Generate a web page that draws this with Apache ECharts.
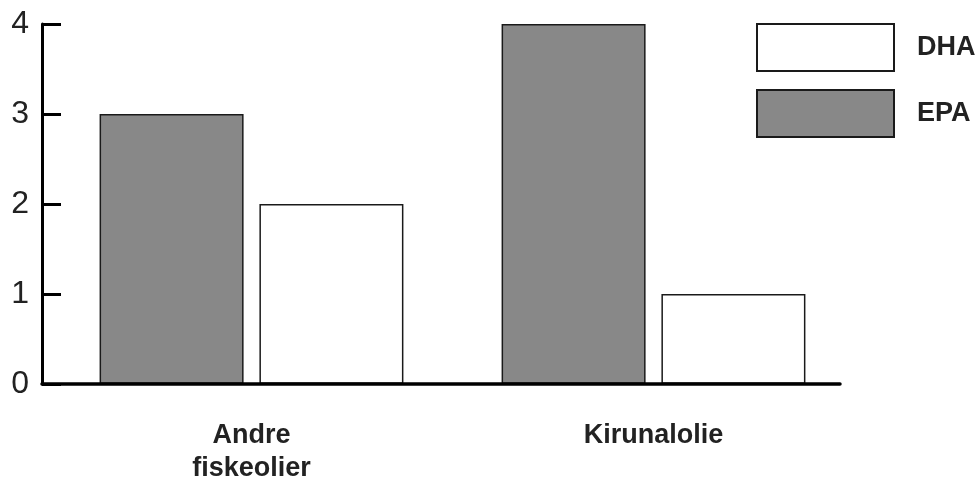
<!DOCTYPE html>
<html>
<head>
<meta charset="utf-8">
<script src="https://cdn.jsdelivr.net/npm/echarts@6/dist/echarts.min.js"></script>
<style>html,body{margin:0;padding:0;background:#fff;}#c{width:978px;height:480px;}</style>
</head>
<body>
<div id="c"></div>
<script>
const categories = ['Andre\nfiskeolier', 'Kirunalolie'];
const epaValues = [3, 4];
const dhaValues = [2, 1];
const yTicks = [0, 1, 2, 3, 4];

const chart = echarts.init(document.getElementById('c'), null, {renderer: 'canvas'});
const font = '"Liberation Sans", Arial, sans-serif';
chart.setOption({
  animation: false,
  backgroundColor: '#fff',
  textStyle: {fontFamily: font},
  grid: [
    {left: 42, right: 138, top: 24, bottom: 96, outerBoundsMode: 'none', containLabel: false},
    {left: 50.5, right: 123.5, top: 24, bottom: 96, outerBoundsMode: 'none', containLabel: false}
  ],
  legend: {
    orient: 'vertical',
    left: 751, top: 18,
    itemWidth: 137, itemHeight: 47, itemGap: 17,
    data: ['DHA', 'EPA'],
    icon: 'rect',
    textStyle: {fontFamily: font, fontSize: 27, fontWeight: 'bold', color: '#222', padding: [0, 0, 0, 18]}
  },
  xAxis: [
    {gridIndex: 0, type: 'category', data: categories,
     axisLine: {lineStyle: {color: '#000', width: 3.5}},
     axisTick: {show: false}, axisLabel: {show: false}, splitLine: {show: false}, z: 10},
    {gridIndex: 1, type: 'category', data: categories,
     axisLine: {show: false}, axisTick: {show: false},
     axisLabel: {fontFamily: font, fontSize: 27, fontWeight: 'bold', color: '#222', margin: 35, lineHeight: 33}}
  ],
  yAxis: [
    {gridIndex: 0, type: 'value', min: yTicks[0], max: yTicks[yTicks.length - 1], interval: 1,
     axisLine: {show: true, lineStyle: {color: '#000', width: 3}},
     axisTick: {show: true, inside: true, length: 19, lineStyle: {color: '#000', width: 3}},
     splitLine: {show: false},
     axisLabel: {fontFamily: font, fontSize: 32, color: '#222', margin: 13, padding: [4, 0, 0, 0]}, z: 10},
    {gridIndex: 1, type: 'value', min: yTicks[0], max: yTicks[yTicks.length - 1], interval: 1, show: false}
  ],
  series: [
    {name: 'EPA', type: 'bar', xAxisIndex: 1, yAxisIndex: 1, data: epaValues,
     barWidth: 144, barGap: '11%',
     itemStyle: {color: '#888888', borderColor: '#1a1a1a', borderWidth: 1.5}},
    {name: 'DHA', type: 'bar', xAxisIndex: 1, yAxisIndex: 1, data: dhaValues,
     barWidth: 144, barGap: '11%',
     itemStyle: {color: '#ffffff', borderColor: '#1a1a1a', borderWidth: 1.5}}
  ]
});
</script>
</body>
</html>
